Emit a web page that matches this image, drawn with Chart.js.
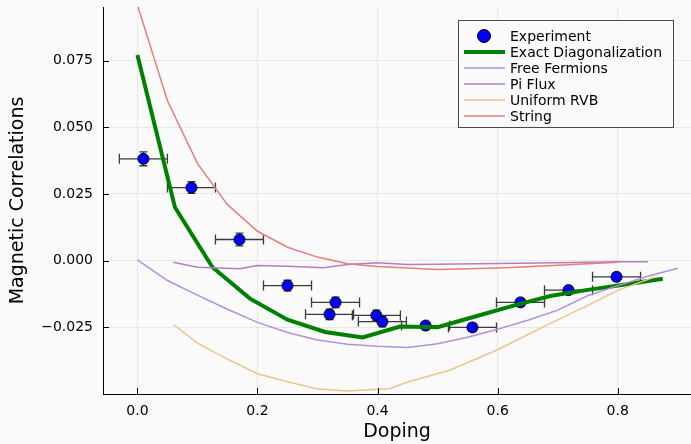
<!DOCTYPE html>
<html>
<head>
<meta charset="utf-8">
<script src="https://cdn.jsdelivr.net/npm/chart.js@4.4.0/dist/chart.umd.min.js"></script>
<style>
  html, body { margin: 0; padding: 0; background: #fafafa; }
</style>
</head>
<body>
<canvas id="magChart" width="691" height="444"></canvas>
<script>
// Experiment (with error bars)
const expDoping = [0.01, 0.09, 0.17, 0.25, 0.33, 0.32, 0.398, 0.408, 0.48, 0.558, 0.638, 0.718, 0.798];
const expValues = [0.0382, 0.0274, 0.0079, -0.0094, -0.0157, -0.0202, -0.0206, -0.0229, -0.0244, -0.0251, -0.0157, -0.0111, -0.0061];
const expDopingErr = [0.04, 0.04, 0.04, 0.04, 0.04, 0.04, 0.04, 0.04, 0.04, 0.04, 0.04, 0.04, 0.04];
const expValueErr = [0.0026, 0.0022, 0.0024, 0.002, 0.002, 0.002, 0.002, 0.002, 0.0015, 0.0015, 0.0015, 0.0015, 0.0015];

// Exact Diagonalization (16 site cluster)
const edDoping = [0, 0.0625, 0.125, 0.1875, 0.25, 0.3125, 0.375, 0.4375, 0.5, 0.5625, 0.625, 0.6875, 0.75, 0.8125, 0.875];
const edValues = [0.0772, 0.0200, -0.0025, -0.0143, -0.0222, -0.0268, -0.0289, -0.0248, -0.0250, -0.0210, -0.0170, -0.0133, -0.0110, -0.0090, -0.0068];

// Free Fermions
const ffDoping = [0, 0.05, 0.1, 0.15, 0.2, 0.25, 0.3, 0.35, 0.4, 0.45, 0.5, 0.55, 0.6, 0.65, 0.7, 0.75, 0.8, 0.85, 0.9];
const ffValues = [0.0003, -0.0075, -0.0130, -0.0183, -0.0232, -0.0270, -0.0298, -0.0314, -0.0322, -0.0326, -0.0312, -0.0288, -0.0258, -0.0224, -0.0186, -0.0132, -0.0094, -0.0059, -0.0029];

// Pi Flux
const piDoping = [0.06, 0.1, 0.17, 0.2, 0.25, 0.31, 0.35, 0.4, 0.45, 0.5, 0.6, 0.7, 0.8, 0.85];
const piValues = [-0.0006, -0.0025, -0.0031, -0.0019, -0.0021, -0.0027, -0.0015, -0.0008, -0.0015, -0.0014, -0.0011, -0.0008, -0.0004, -0.0004];

// Uniform RVB
const rvbDoping = [0.06, 0.1, 0.15, 0.2, 0.25, 0.3, 0.35, 0.42, 0.45, 0.52, 0.6, 0.68, 0.75, 0.8, 0.86];
const rvbValues = [-0.024, -0.031, -0.037, -0.0425, -0.0455, -0.0482, -0.049, -0.0481, -0.0456, -0.0412, -0.0335, -0.0244, -0.0168, -0.0112, -0.0063];

// String
const strDoping = [0, 0.05, 0.1, 0.15, 0.2, 0.25, 0.3, 0.35, 0.4, 0.45, 0.5, 0.55, 0.6, 0.65, 0.7, 0.75, 0.8];
const strValues = [0.096, 0.060, 0.0365, 0.021, 0.011, 0.005, 0.0013, -0.0012, -0.0022, -0.0028, -0.0034, -0.0031, -0.0028, -0.0023, -0.0018, -0.0012, -0.0006];

// Tick labels
const xTicks = [0, 0.2, 0.4, 0.6, 0.8];
const yTicks = [-0.025, 0, 0.025, 0.05, 0.075];

const FONT = 'DejaVu Sans';

function pairs(xs, ys) {
    return xs.map((x, i) => ({ x: x, y: ys[i] }));
}

// background
const bgPlugin = {
    id: 'bg',
    beforeDraw(chart) {
        const ctx = chart.ctx;
        ctx.save();
        ctx.fillStyle = '#fafafa';
        ctx.fillRect(0, 0, chart.width, chart.height);
        ctx.restore();
    }
};

// error bars of the experiment, under the markers
const errorBarPlugin = {
    id: 'errorBars',
    beforeDatasetsDraw(chart) {
        const ctx = chart.ctx;
        const xs = chart.scales.x, ys = chart.scales.y;
        ctx.save();
        ctx.strokeStyle = '#3a3a3a';
        ctx.lineWidth = 1.3;
        expDoping.forEach((d, i) => {
            const px = xs.getPixelForValue(d);
            const py = ys.getPixelForValue(expValues[i]);
            const x0 = xs.getPixelForValue(d - expDopingErr[i]);
            const x1 = xs.getPixelForValue(d + expDopingErr[i]);
            const y0 = ys.getPixelForValue(expValues[i] - expValueErr[i]);
            const y1 = ys.getPixelForValue(expValues[i] + expValueErr[i]);
            ctx.beginPath();
            ctx.moveTo(x0, py); ctx.lineTo(x1, py);
            ctx.moveTo(x0, py - 5); ctx.lineTo(x0, py + 5);
            ctx.moveTo(x1, py - 5); ctx.lineTo(x1, py + 5);
            ctx.moveTo(px, y0); ctx.lineTo(px, y1);
            ctx.moveTo(px - 4, y0); ctx.lineTo(px + 4, y0);
            ctx.moveTo(px - 4, y1); ctx.lineTo(px + 4, y1);
            ctx.stroke();
        });
        ctx.restore();
    }
};

// inward tick marks + legend box
const framePlugin = {
    id: 'frame',
    afterDraw(chart) {
        const ctx = chart.ctx;
        const xs = chart.scales.x, ys = chart.scales.y;
        const area = chart.chartArea;
        ctx.save();
        ctx.strokeStyle = '#000';
        ctx.lineWidth = 1;
        ctx.beginPath();
        xTicks.forEach(v => {
            const px = Math.round(xs.getPixelForValue(v)) + 0.5;
            ctx.moveTo(px, area.bottom); ctx.lineTo(px, area.bottom - 6);
        });
        yTicks.forEach(v => {
            const py = Math.round(ys.getPixelForValue(v)) + 0.5;
            ctx.moveTo(area.left, py); ctx.lineTo(area.left + 6, py);
        });
        ctx.stroke();

        // legend
        const bx = 458.5, by = 20.5, bw = 215, bh = 107;
        ctx.fillStyle = '#fafafa';
        ctx.fillRect(bx, by, bw, bh);
        ctx.strokeStyle = '#4a4a4a';
        ctx.strokeRect(bx, by, bw, bh);
        ctx.font = '14px "' + FONT + '"';
        ctx.textBaseline = 'middle';
        chart.data.datasets.forEach((ds, i) => {
            const cy = 36 + i * 16;
            if (ds.showLine === false) {
                ctx.beginPath();
                ctx.arc(484, cy, 6.5, 0, Math.PI * 2);
                ctx.fillStyle = ds.backgroundColor;
                ctx.fill();
                ctx.strokeStyle = ds.borderColor;
                ctx.lineWidth = 1;
                ctx.stroke();
            } else {
                ctx.beginPath();
                ctx.moveTo(464, cy); ctx.lineTo(505, cy);
                ctx.strokeStyle = ds.borderColor;
                ctx.lineWidth = ds.borderWidth;
                ctx.stroke();
            }
            ctx.fillStyle = '#000';
            ctx.fillText(ds.label, 510, cy + 1);
        });
        ctx.restore();
    }
};

function lineSet(label, xs, ys, color, width, order) {
    return {
        label: label,
        data: pairs(xs, ys),
        borderColor: color,
        backgroundColor: color,
        borderWidth: width,
        pointRadius: 0,
        tension: 0,
        order: order
    };
}

function initializeChart() {
    const ctx = document.getElementById('magChart').getContext('2d');
    new Chart(ctx, {
        type: 'line',
        data: {
            datasets: [
                {
                    label: 'Experiment',
                    data: pairs(expDoping, expValues),
                    showLine: false,
                    pointRadius: 5.5,
                    pointBorderWidth: 1,
                    backgroundColor: '#0000ff',
                    borderColor: '#000000',
                    order: 6
                },
                lineSet('Exact Diagonalization', edDoping, edValues, '#008000', 4, 5),
                lineSet('Free Fermions', ffDoping, ffValues, '#b58ee0', 1.5, 4),
                lineSet('Pi Flux', piDoping, piValues, '#b27dc2', 1.5, 3),
                lineSet('Uniform RVB', rvbDoping, rvbValues, '#eec48a', 1.5, 2),
                lineSet('String', strDoping, strValues, '#ec7b7b', 1.5, 1)
            ]
        },
        options: {
            responsive: false,
            animation: false,
            layout: { autoPadding: false, padding: { top: 7, right: 0, left: 0, bottom: 0 } },
            plugins: {
                legend: { display: false },
                tooltip: { enabled: false }
            },
            scales: {
                x: {
                    type: 'linear',
                    min: -0.0573,
                    max: 0.922,
                    afterBuildTicks: s => { s.ticks = xTicks.map(v => ({ value: v })); },
                    afterFit: s => { s.height = 50; s.paddingLeft = 0; s.paddingRight = 0; },
                    ticks: {
                        callback: v => v.toFixed(1),
                        color: '#000',
                        font: { family: FONT, size: 14 },
                        padding: 9,
                        maxRotation: 0,
                        autoSkip: false
                    },
                    grid: { color: 'rgba(0,0,0,0.07)', drawTicks: false },
                    border: { color: '#000', width: 1 },
                    title: {
                        display: true,
                        text: 'Doping',
                        color: '#000',
                        font: { family: FONT, size: 19 },
                        padding: { top: 0, bottom: 1 }
                    }
                },
                y: {
                    type: 'linear',
                    min: -0.0501,
                    max: 0.0952,
                    afterBuildTicks: s => { s.ticks = yTicks.map(v => ({ value: v })); },
                    afterFit: s => { s.width = 103; s.paddingTop = 0; s.paddingBottom = 0; },
                    ticks: {
                        callback: v => v.toFixed(3).replace('-', '\u2212'),
                        color: '#000',
                        font: { family: FONT, size: 14 },
                        padding: 10
                    },
                    grid: { color: 'rgba(0,0,0,0.07)', drawTicks: false },
                    border: { color: '#000', width: 1 },
                    title: {
                        display: true,
                        text: 'Magnetic Correlations',
                        color: '#000',
                        font: { family: FONT, size: 19 },
                        padding: { top: 7, bottom: 0 }
                    }
                }
            }
        },
        plugins: [bgPlugin, errorBarPlugin, framePlugin]
    });
}

document.addEventListener('DOMContentLoaded', initializeChart);
</script>
</body>
</html>
